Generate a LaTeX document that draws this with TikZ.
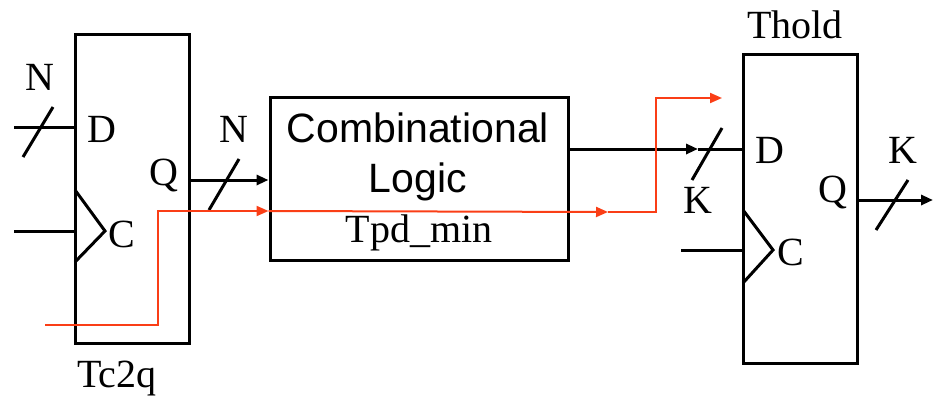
\documentclass[tikz,border=0pt]{standalone}
\usepackage{fontspec}
\setmainfont{Liberation Serif}
\newfontfamily\arialfont{Liberation Sans}
\usetikzlibrary{arrows.meta}
\definecolor{pathred}{RGB}{250,62,22}
\begin{document}
\begin{tikzpicture}[x=1pt,y=-1pt,
  wire/.style={line width=3pt},
  timing/.style={line width=2pt,color=pathred},
  tip/.style={-{Triangle[length=12pt,width=10pt]}},
  blockbox/.style={draw,line width=3pt,inner sep=0pt},
  lbl/.style={font=\fontsize{40}{42}\selectfont,inner sep=0pt,anchor=base},
  sanslbl/.style={font=\arialfont\fontsize{41}{43}\selectfont,inner sep=0pt,anchor=base}]
\useasboundingbox (0,0) rectangle (933,396);

% blocks
\node[blockbox,minimum width=114pt,minimum height=308pt] (ff1) at (132,189) {};
\node[blockbox,minimum width=298pt,minimum height=163pt] (comb) at (419,178.5) {};
\node[blockbox,minimum width=114pt,minimum height=308pt] (ff2) at (800,209) {};

% combinational block text (placed by baseline)
\node[sanslbl] (combtxt) at (418,142) {Combinational};
\node[sanslbl] (logictxt) at (418,192) {Logic};
\node[lbl] (tpd) at (419,242) {Tpd\_min};

% first register
\coordinate (d1in) at (14,127);
\coordinate (c1in) at (14,231);
\draw[wire] (d1in) -- (ff1.west |- d1in);
\draw[wire] (23,157) -- (53,107);
\draw[wire] (c1in) -- (ff1.west |- c1in);
\draw[wire,line join=miter] (75,190) -- (105,231) -- (75,262);
\node[lbl] (n1) at (40,90) {N};
\node[lbl] (dlab1) at (102,142) {D};
\node[lbl] (clab1) at (122,247) {C};
\node[lbl] (qlab1) at (164,185) {Q};
\node[lbl] (tc2q) at (117,387) {Tc2q};

% register output into the logic
\coordinate (q1) at (189,180);
\draw[wire,tip] (q1) -- (comb.west |- q1);
\draw[wire] (209,210) -- (239,159);
\node[lbl] (n2) at (234,142) {N};

% logic output into the second register
\coordinate (lo) at (568,149);
\coordinate (loarrow) at (698,149);
\draw[wire,tip] (lo) -- (loarrow);
\draw[wire] (loarrow) -- (ff2.west |- lo);
\draw[wire] (692,180) -- (722,128);
\node[lbl] (k1) at (698,213) {K};

% second register
\coordinate (c2in) at (681,250);
\draw[wire] (c2in) -- (ff2.west |- c2in);
\draw[wire,line join=miter] (743,210) -- (773,250) -- (743,283);
\node[lbl] (thold) at (795,39) {Thold};
\node[lbl] (dlab2) at (770,163) {D};
\node[lbl] (clab2) at (791,265) {C};
\node[lbl] (qlab2) at (833,202) {Q};
\node[lbl] (k2) at (903,163) {K};
\coordinate (qout) at (933,200);
\draw[wire,tip] (ff2.east |- qout) -- (qout);
\draw[wire] (876,230) -- (908,180);

% timing path
\coordinate (clk) at (45,325);
\coordinate (tp1) at (158,211);
\coordinate (tp2) at (608,212);
\coordinate (tp3) at (656,212);
\coordinate (tpend) at (722,98);
\draw[timing,tip] (clk) -| (tp1) -- (comb.west |- tp1);
\draw[timing,tip] (comb.west |- tp1) -- (tp2);
\draw[timing,tip] (tp2) -- (tp3) |- (tpend);
\end{tikzpicture}
\end{document}
